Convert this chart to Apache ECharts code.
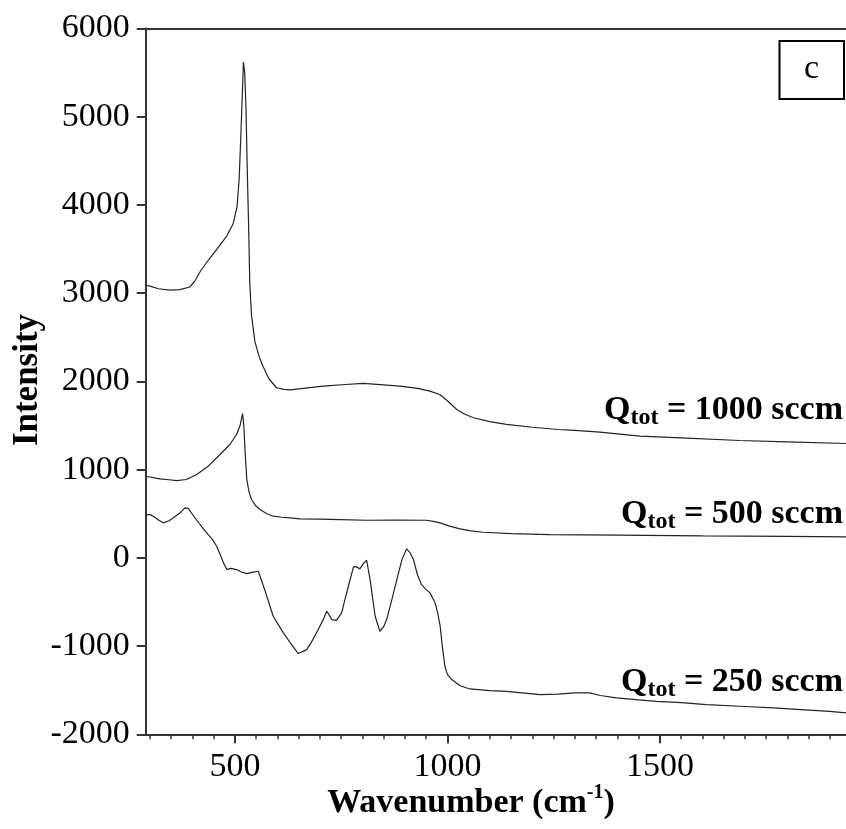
<!DOCTYPE html>
<html>
<head>
<meta charset="utf-8">
<script src="https://cdn.jsdelivr.net/npm/echarts@6/dist/echarts.min.js"></script>
<style>
html,body{margin:0;padding:0;background:#fff;}
#chart{width:846px;height:829px;}
</style>
</head>
<body>
<div id="chart"></div>
<script>
// ---- Data ----
const wn1000 = [290,300,320,347,370,394,406,420,440,457,480,496,505,510,514,517,520,523,526,529,532,535,539,547,557,567,580,598,615,630,660,708,760,802,850,888,930,959,982,1000,1022,1040,1061,1100,1139,1200,1260,1300,1359,1453,1550,1688,1800,1938];
const int1000 = [3090,3080,3050,3035,3040,3070,3140,3260,3390,3496,3640,3790,3980,4300,4800,5200,5620,5500,5100,4400,3800,3100,2750,2450,2280,2160,2030,1928,1910,1905,1920,1946,1965,1977,1960,1946,1920,1889,1852,1780,1682,1630,1588,1545,1512,1480,1455,1445,1424,1379,1360,1330,1315,1296];

const wn500 = [290,323,345,363,386,410,437,465,488,504,512,518,521,524,528,533,539,549,559,575,590,610,630,653,700,747,810,880,951,970,983,1005,1030,1055,1084,1150,1241,1400,1600,1800,1938];
const int500 = [925,896,885,876,888,945,1039,1171,1285,1398,1500,1636,1500,1191,888,750,661,590,548,500,472,460,454,442,438,434,426,428,426,410,397,360,329,305,290,275,264,258,250,244,238];

const wn250 = [290,300,308,320,331,345,355,371,382,390,394,405,418,437,447,457,465,473,481,490,504,515,528,540,555,565,575,590,614,630,649,660,669,683,696,708,716,722,728,739,751,760,767,779,786,794,803,810,818,830,841,850,857,869,881,893,904,912,920,930,939,950,959,971,977,983,988,994,1000,1010,1030,1053,1100,1139,1218,1260,1300,1335,1360,1398,1450,1492,1550,1610,1700,1767,1850,1900,1938];
const int250 = [491,490,472,430,397,420,454,510,567,560,540,460,378,264,210,132,40,-57,-133,-120,-133,-160,-178,-165,-152,-290,-435,-662,-850,-960,-1085,-1060,-1040,-930,-813,-700,-605,-650,-700,-708,-624,-450,-322,-102,-100,-125,-60,-27,-246,-662,-832,-780,-700,-480,-246,-20,102,60,-19,-200,-303,-360,-397,-510,-620,-776,-1000,-1229,-1320,-1380,-1450,-1486,-1505,-1513,-1550,-1545,-1530,-1531,-1560,-1588,-1610,-1626,-1640,-1664,-1685,-1701,-1725,-1740,-1758];

const xMajorTicks = [500,1000,1500];
const xMinorTicks = [300,350,400,450,500,550,600,650,700,750,800,850,900,950,1000,1050,1100,1150,1200,1250,1300,1350,1400,1450,1500,1550,1600,1650,1700,1750,1800,1850,1900];
const seriesLabels = ['1000 sccm','500 sccm','250 sccm'];

const xMin = 290, xMax = 1938;
const FONT = 'Liberation Serif';
const AX = '#333';

function pairs(xs, ys){ return xs.map((x,i)=>[x, ys[i]]); }
const plain = v => String(v);

const chart = echarts.init(document.getElementById('chart'), null, {renderer:'canvas'});

const lineStyle = {color:'#222', width:1.2};

function qLabel(txt, y){
  return {
    type:'text', x:843, y:y, z:100,
    style:{
      text:'{q|Q}{t|tot}{q| = ' + txt + '}',
      align:'right', verticalAlign:'middle',
      rich:{
        q:{fontFamily:FONT, fontWeight:'bold', fontSize:34, lineHeight:40, fill:'#000'},
        t:{fontFamily:FONT, fontWeight:'bold', fontSize:24, lineHeight:24, verticalAlign:'bottom', fill:'#000'}
      }
    }
  };
}

const option = {
  animation:false,
  backgroundColor:'#fff',
  grid:{left:145.7, right:0, top:28.5, bottom:94.7, containLabel:false},
  xAxis:[
    {type:'value', min:xMin, max:xMax, position:'bottom',
     axisLine:{show:true, onZero:false, lineStyle:{color:AX, width:2}},
     axisTick:{show:true, inside:false, length:9, lineStyle:{color:AX, width:2}, customValues:xMajorTicks},
     axisLabel:{show:true, customValues:xMajorTicks, formatter:plain, margin:16, fontFamily:FONT, fontSize:34, color:'#000'},
     splitLine:{show:false}},
    {type:'value', min:xMin, max:xMax, position:'bottom',
     axisLine:{show:false, onZero:false},
     axisTick:{show:true, inside:false, length:5, lineStyle:{color:AX, width:1.5}, customValues:xMinorTicks},
     axisLabel:{show:false},
     splitLine:{show:false}},
    {type:'value', min:xMin, max:xMax, position:'top',
     axisLine:{show:true, onZero:false, lineStyle:{color:AX, width:2}},
     axisTick:{show:false}, axisLabel:{show:false}, splitLine:{show:false}}
  ],
  yAxis:[
    {type:'value', min:-2000, max:6000, interval:1000,
     axisLine:{show:true, onZero:false, lineStyle:{color:AX, width:2}},
     axisTick:{show:true, inside:false, length:9, lineStyle:{color:AX, width:2}},
     axisLabel:{margin:16, formatter:plain, fontFamily:FONT, fontSize:34, color:'#000'},
     splitLine:{show:false}}
  ],
  series:[
    {name:seriesLabels[0], type:'line', xAxisIndex:0, yAxisIndex:0, data:pairs(wn1000,int1000), showSymbol:false, lineStyle:lineStyle, smooth:false},
    {name:seriesLabels[1], type:'line', xAxisIndex:0, yAxisIndex:0, data:pairs(wn500,int500), showSymbol:false, lineStyle:lineStyle, smooth:false},
    {name:seriesLabels[2], type:'line', xAxisIndex:0, yAxisIndex:0, data:pairs(wn250,int250), showSymbol:false, lineStyle:lineStyle, smooth:false}
  ],
  graphic:[
    {type:'text', x:28, y:380, rotation:Math.PI/2,
     style:{text:'Intensity', font:'bold 35px "Liberation Serif"', fill:'#000', align:'center', verticalAlign:'middle'}},
    {type:'text', x:471, y:803,
     style:{text:'{a|Wavenumber (cm}{s|-1}{a|)}', align:'center', verticalAlign:'middle',
       rich:{
         a:{fontFamily:FONT, fontWeight:'bold', fontSize:34, lineHeight:40, fill:'#000'},
         s:{fontFamily:FONT, fontWeight:'bold', fontSize:20, lineHeight:20, verticalAlign:'top', fill:'#000'}
       }}},
    qLabel(seriesLabels[0], 410),
    qLabel(seriesLabels[1], 514),
    qLabel(seriesLabels[2], 682),
    {type:'rect', shape:{x:779.5, y:41, width:64.5, height:58}, style:{fill:'#fff', stroke:'#000', lineWidth:2}},
    {type:'text', x:811.5, y:69, style:{text:'c', font:'34px "Liberation Serif"', fill:'#000', align:'center', verticalAlign:'middle'}}
  ]
};
chart.setOption(option);
</script>
</body>
</html>
